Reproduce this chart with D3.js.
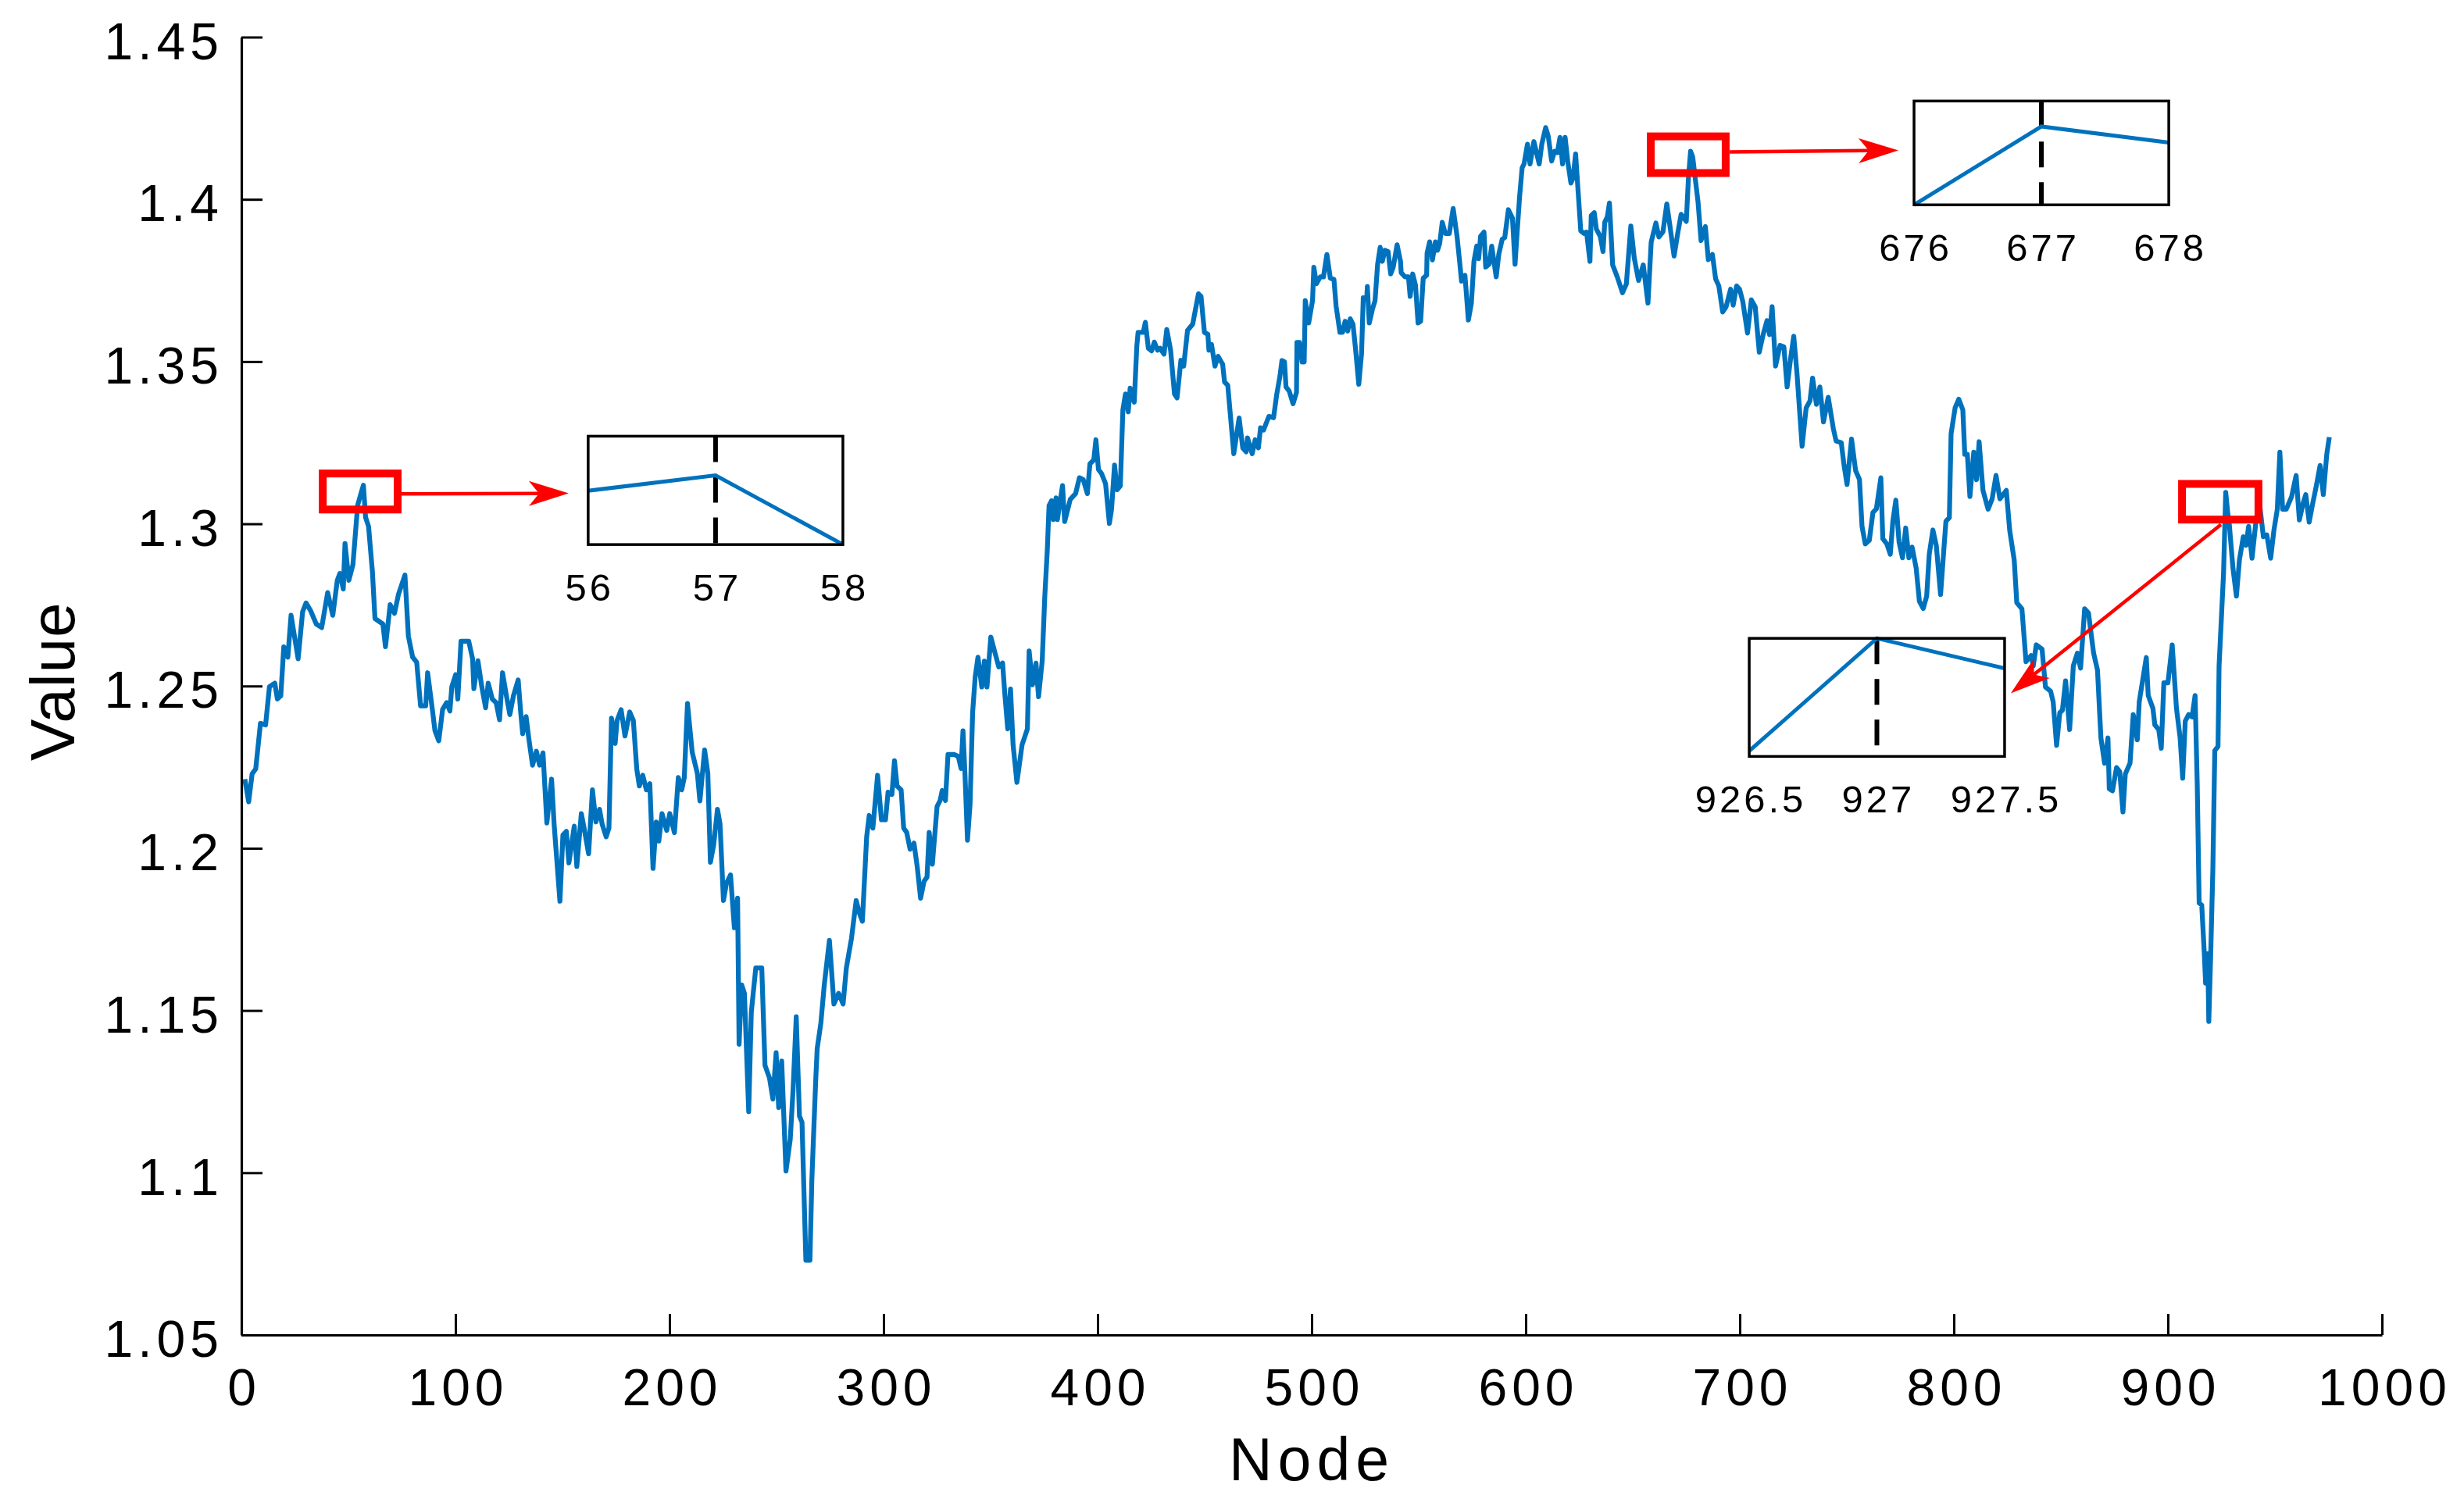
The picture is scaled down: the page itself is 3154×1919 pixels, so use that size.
<!DOCTYPE html>
<html>
<head>
<meta charset="utf-8">
<script src="https://cdn.jsdelivr.net/npm/d3@7"></script>
<style>
html,body{margin:0;padding:0;background:#fff;}
svg{display:block;}
text{font-family:"Liberation Sans",Arial,Helvetica,sans-serif;fill:#000;}
</style>
</head>
<body>
<svg id="chart" width="3154" height="1919"></svg>
<script>
// ---------------- data ----------------
const nodes = [
1.6,3.4,5,6.7,8.9,11.3,13.1,15.6,16.8,18.4,
19.8,21.7,23.2,26.5,28.6,30.2,32.2,35,37.5,40.3,
42.7,44.8,46,47.6,48.4,50.2,52.1,54.3,56,57,
58,59.4,61.2,62.4,66.1,67.3,69.5,71.5,73.4,76.4,
78,80,81.9,83.7,86.1,87,89.2,90.4,92.2,94,
95.9,97.4,98.3,100.1,101.1,102.6,106.2,108,108.6,110.5,
112.3,114.1,115.3,117.2,119,120.6,122,123.8,125.4,127.1,
129.3,130.5,131.4,133,134.2,136,137.8,139.3,140.9,142.7,
144.9,146.1,148.8,150.2,151.8,153,155.5,156.7,158.8,160.3,
162.2,164,165.6,167.3,168.5,170.4,171.7,172.9,174.6,175.5,
177.4,179.2,181.4,183.1,184.7,185.9,187.5,189.2,190.8,192.3,
193.8,195,196.5,198.7,200.1,202.3,204.1,205.7,206.9,208.4,
210.6,213,214.2,216.4,217.9,219.1,220.6,222.4,223.6,225.2,
226.6,228.5,230.3,231.8,232.5,233.7,235,237,238.2,240.3,
243.1,244.6,246.7,248.3,249.8,251,252.4,254.4,256.4,257.7,
259.2,260.7,261.9,263.7,265.6,266.5,268.3,269,270.7,272.3,
274.7,276.8,279,281.1,282.6,285,287.2,288.7,290.1,292.1,
293.3,295,297.2,299,300.9,302.1,303.9,305.1,306.3,308.2,
309.4,310.8,312.4,314.2,315.7,317.3,318.9,320.3,321.3,322.8,
325,326.4,327.4,328.9,330.1,333.1,334.9,336.2,337.1,338,
339.2,340.4,341.6,342.8,344.1,345.9,347.1,348.3,350.1,353.8,
355.6,356.6,358,359.3,360.5,362.3,364.7,367.2,368,369.6,
371.2,372.4,374.1,375.3,376.5,377.3,378.5,379.3,380.6,381.2,
383.6,384.6,387.2,389.7,391.5,393.3,395.2,396.4,398.2,399.2,
400.4,401.8,403.7,405.5,406.5,407.9,409.1,410.6,411.8,413,
414.3,415.2,417.1,418.3,418.9,421.3,422.3,423.7,425.2,426.5,
428,429.2,431,432.3,434.1,435.9,437.1,438.9,440.2,442,
444.4,447.1,448.3,449.9,451.5,452,453.2,454.8,456.3,458.4,
459.3,460.8,463.6,466.1,467.8,469.4,470,472.2,473.6,475.1,
476.1,477.5,480,482.2,483.6,485.2,486.1,487.3,488,489.5,
491.3,492.9,493.1,494.3,495.5,496.5,497,498.6,500.4,501,
502.2,504,505.5,507.1,508.7,510.4,511.4,513.2,514.4,515.6,
516.8,518,519.3,520.5,522,523.3,524.1,525.7,526,526.9,
528.4,529.6,530.8,532,533,534.2,535.7,536.9,538.1,539.9,
541.5,541.8,543.6,545.2,546,547.2,548.5,549.7,550.9,552.1,
553.7,553.9,555.1,556.4,557.8,558.8,559.8,561,562.4,564.3,
566.1,567.9,569.1,570,571.6,573.2,574.6,575.8,577.1,578,
578.9,580.5,581.3,582.9,584.1,586.2,587.4,589,590.2,591.9,
593.8,595,595.9,597.1,598.3,599.2,600.8,602,603.8,606.3,
607.5,609.3,610.5,612.1,613.5,614.8,616,617.2,618.4,619.6,
621.1,622.1,623.3,624.3,625.7,627.2,628.4,630,630.6,632,
633,634.8,636.1,636.9,638.1,639.1,640.6,642.8,645.2,647,
649.1,650.7,652.7,654.9,657.1,658.6,660.8,662.2,664.1,665.9,
667.3,669.3,671,672.6,675,676,677,678,680.5,681.9,
683.9,685.3,687.2,688.7,690.2,692,693.6,695.7,696.9,698.5,
699.9,701.4,703.6,705.4,707.2,709.1,710.9,712.7,713.9,715.1,
716.7,718.8,720.6,722.1,723.7,725.2,726.7,729.1,731,732.8,
734,735.8,737.4,739.1,741.3,743.7,745,747.4,748.6,750.1,
752.2,754.1,755.9,757.1,758.6,760.5,762.2,763.8,765.9,766.8,
768.7,770.3,771.5,772.9,774.4,776,777.5,779,780.5,782.4,
783.9,785.7,787.3,788.5,790.2,791.8,793.8,795.4,796.3,797.9,
798.7,800.6,802.3,804.2,805.1,806.3,807.5,809.3,810.6,811.8,
813.6,816,817.9,819.7,821.5,824.5,826.1,828.2,829.4,831.8,
833.7,836.1,837.1,838.5,841.2,842.8,845.2,846.4,848,849.5,
850.7,852.2,854.1,855.8,857.7,859.2,861.1,862.9,865.3,867.1,
868.7,870.4,872,872.6,874.1,876,877.5,879,880.1,882.3,
883.8,885.7,886.6,889.9,890.8,893,893.9,895.7,896.9,898.1,
900,902,904,905.7,906.9,908.1,909.7,911.3,912.7,913.7,
914.6,915.8,917,917.6,918.6,919.1,920,921,921.9,923.4,
923.9,926,927,928,928.6,930.4,932,933.4,935.2,936.5,
937.7,939.3,941.3,942.9,944.6,946.2,948,949.5,951.1,952.3,
953.6,955.3,957.8,959.9,961.4,963.2,964.4,966,967.5,969.3,
971.1,972.6,974.2,975.4
];
const values = [
1.2213,1.2143,1.2229,1.2245,1.2385,1.2380,1.2498,1.2509,1.2460,1.2470,
1.2621,1.2589,1.2718,1.2584,1.2729,1.2756,1.2734,1.2691,1.2680,1.2788,
1.2718,1.2826,1.2847,1.2799,1.2939,1.2826,1.2874,1.3057,1.3097,1.3119,
1.3020,1.2992,1.2853,1.2708,1.2691,1.2621,1.2751,1.2724,1.2783,1.2842,
1.2654,1.2589,1.2573,1.2439,1.2439,1.2541,1.2428,1.2363,1.2331,1.2428,
1.2449,1.2423,1.2498,1.2535,1.2460,1.2638,1.2638,1.2584,1.2492,1.2578,
1.2498,1.2433,1.2509,1.2460,1.2449,1.2396,1.2541,1.2470,1.2412,1.2470,
1.2519,1.2417,1.2353,1.2406,1.2342,1.2256,1.2299,1.2256,1.2294,1.2078,
1.2213,1.2073,1.1837,1.2041,1.2052,1.1955,1.2068,1.1944,1.2107,1.2055,
1.1983,1.2180,1.2081,1.2120,1.2075,1.2035,1.2062,1.2401,1.2323,1.2394,
1.2427,1.2346,1.2420,1.2394,1.2244,1.2192,1.2225,1.2180,1.2199,1.1938,
1.2081,1.2022,1.2107,1.2055,1.2107,1.2048,1.2218,1.2180,1.2218,1.2446,
1.2296,1.2231,1.2146,1.2303,1.2231,1.1957,1.2009,1.2120,1.2075,1.1839,
1.1892,1.1918,1.1755,1.1846,1.1396,1.1579,1.1553,1.1188,1.1494,1.1631,
1.1631,1.1331,1.1292,1.1227,1.1370,1.1201,1.1344,1.1005,1.1103,1.1253,
1.1481,1.1175,1.1155,1.0730,1.0730,1.0979,1.1285,1.1383,1.1461,1.1579,
1.1716,1.1520,1.1553,1.1520,1.1631,1.1722,1.1839,1.1800,1.1775,1.2035,
1.2101,1.2062,1.2225,1.2088,1.2088,1.2173,1.2166,1.2270,1.2192,1.2180,
1.2062,1.2049,1.1997,1.2016,1.1944,1.1846,1.1898,1.1911,1.2049,1.1951,
1.2129,1.2147,1.2178,1.2147,1.2289,1.2289,1.2283,1.2246,1.2362,1.2233,
1.2025,1.2135,1.2418,1.2528,1.2589,1.2497,1.2577,1.2497,1.2651,1.2559,
1.2571,1.2479,1.2368,1.2491,1.2319,1.2203,1.2319,1.2368,1.2608,1.2504,
1.2571,1.2467,1.2577,1.2774,1.2921,1.3056,1.3071,1.3013,1.3080,1.3013,
1.3118,1.3007,1.3075,1.3093,1.3142,1.3136,1.3093,1.3185,1.3197,1.3259,
1.3167,1.3155,1.3124,1.3001,1.3044,1.3181,1.3105,1.3117,1.3351,1.3400,
1.3345,1.3418,1.3375,1.3547,1.3590,1.3590,1.3621,1.3541,1.3533,1.3560,
1.3535,1.3541,1.3523,1.3599,1.3535,1.3400,1.3388,1.3504,1.3486,1.3596,
1.3615,1.3709,1.3701,1.3590,1.3584,1.3535,1.3553,1.3486,1.3516,1.3492,
1.3437,1.3427,1.3216,1.3326,1.3234,1.3222,1.3265,1.3216,1.3259,1.3234,
1.3296,1.3289,1.3331,1.3327,1.3396,1.3456,1.3503,1.3499,1.3422,1.3409,
1.3370,1.3405,1.3559,1.3559,1.3499,1.3499,1.3688,1.3619,1.3688,1.3791,
1.3740,1.3761,1.3761,1.3830,1.3757,1.3753,1.3671,1.3590,1.3590,1.3624,
1.3594,1.3632,1.3615,1.3538,1.3430,1.3525,1.3697,1.3693,1.3731,1.3619,
1.3662,1.3688,1.3800,1.3852,1.3809,1.3843,1.3839,1.3770,1.3791,1.3860,
1.3809,1.3774,1.3761,1.3761,1.3701,1.3770,1.3735,1.3619,1.3624,1.3757,
1.3766,1.3834,1.3869,1.3813,1.3869,1.3843,1.3864,1.3929,1.3895,1.3895,
1.3972,1.3886,1.3809,1.3748,1.3766,1.3628,1.3680,1.3809,1.3856,1.3817,
1.3886,1.3899,1.3791,1.3800,1.3856,1.3761,1.3830,1.3877,1.3882,1.3968,
1.3942,1.3800,1.3890,1.4006,1.4097,1.4109,1.4170,1.4109,1.4178,1.4109,
1.4170,1.4221,1.4195,1.4118,1.4148,1.4144,1.4191,1.4109,1.4191,1.4118,
1.4050,1.4066,1.4140,1.4041,1.3903,1.3895,1.3899,1.3809,1.3950,1.3959,
1.3908,1.3886,1.3839,1.3929,1.3946,1.3989,1.3798,1.3760,1.3712,1.3739,
1.3918,1.3819,1.3750,1.3798,1.3680,1.3868,1.3927,1.3884,1.3900,1.3986,
1.3921,1.3825,1.3895,1.3954,1.3932,1.4065,1.4148,1.4131,1.3991,1.3873,
1.3916,1.3814,1.3830,1.3755,1.3733,1.3653,1.3669,1.3723,1.3674,1.3733,
1.3723,1.3685,1.3588,1.3690,1.3669,1.3529,1.3583,1.3626,1.3583,1.3669,
1.3486,1.3550,1.3545,1.3422,1.3508,1.3578,1.3465,1.3239,1.3357,1.3379,
1.3449,1.3368,1.3422,1.3314,1.3390,1.3293,1.3255,1.3250,1.3185,1.3121,
1.3261,1.3164,1.3137,1.2992,1.2938,1.2949,1.3035,1.3046,1.3142,1.2954,
1.2938,1.2906,1.3008,1.3073,1.2944,1.2895,1.2987,1.2895,1.2928,1.2863,
1.2761,1.2739,1.2777,1.2906,1.2981,1.2933,1.2782,1.2928,1.3008,1.3019,
1.3277,1.3358,1.3384,1.3351,1.3214,1.3214,1.3084,1.3221,1.3136,1.3253,
1.3103,1.3045,1.3077,1.3149,1.3077,1.3103,1.2979,1.2888,1.2757,1.2738,
1.2575,1.2594,1.2562,1.2627,1.2614,1.2497,1.2484,1.2451,1.2317,1.2418,
1.2425,1.2516,1.2366,1.2562,1.2601,1.2555,1.2738,1.2725,1.2601,1.2549,
1.2340,1.2262,1.2340,1.2183,1.2177,1.2249,1.2236,1.2112,1.2229,1.2262,
1.2412,1.2334,1.2451,1.2588,1.2471,1.2431,1.2380,1.2366,1.2308,1.2510,
1.2510,1.2627,1.2431,1.2340,1.2216,1.2392,1.2412,1.2405,1.2471,1.2197,
1.1831,1.1825,1.1675,1.1584,1.1675,1.1466,1.1675,1.1936,1.2301,1.2314,
1.2562,1.2849,1.3097,1.3031,1.3005,1.2862,1.2777,1.2888,1.2960,1.2934,
1.2992,1.2894,1.3018,1.3057,1.2960,1.2966,1.2894,1.2979,1.3045,1.3221,
1.3045,1.3045,1.3084,1.3149,1.3012,1.3064,1.3090,1.3005,1.3058,1.3116,
1.3180,1.3090,1.3214,1.3267
];

// axes
const xTickValues = [0,100,200,300,400,500,600,700,800,900,1000];
const yTickValues = [1.05,1.1,1.15,1.2,1.25,1.3,1.35,1.4,1.45];
const yTickLabels = ["1.05","1.1","1.15","1.2","1.25","1.3","1.35","1.4","1.45"];
const xDomain = [0,1000];
const yDomain = [1.05,1.45];
const xLabelText = "Node";
const yLabelText = "Value";

// zoom annotations (data units of the main axes)
const markNodes = [57,677,927];                       // marked peaks
const markRectNodes = [[38,73],[658.4,693.4],[906.6,942.3]];
const markRectValues = [[1.3044,1.3155],[1.4081,1.4194],[1.3013,1.3123]];
const insetBoxNodes = [[162,281],[781.4,900.4],[704.4,823.7]];
const insetBoxValues = [[1.2936,1.3270],[1.3983,1.4303],[1.2283,1.2647]];
const insetXDomains = [[56,58],[676,678],[926.5,927.5]];
const insetYDomains = [[1.302,1.3175],[1.4065,1.4175],[1.2967,1.3097]];
const insetTickValues = [[56,57,58],[676,677,678],[926.5,927,927.5]];
const insetTickLabels = [["56","57","58"],["676","677","678"],["926.5","927","927.5"]];
const arrowFrom = [[74.8,1.3092],[695.3,1.4146],[924.8,1.2998]];
const arrowTo = [[152.9,1.3094],[774.1,1.4151],[826.6,1.2478]];

// ---------------- drawing ----------------
const BLUE = "#0072BD";
const RED = "#FF0000";
const FONT = '"Liberation Sans",Arial,Helvetica,sans-serif';

const svg = d3.select("#chart");
const plotLeft = 309, plotRight = 3049, plotTop = 47.5, plotBottom = 1709;

const x = d3.scaleLinear().domain(xDomain).range([plotLeft, plotRight]);
const y = d3.scaleLinear().domain(yDomain).range([plotBottom, plotTop]);

const series = nodes.map((n,i)=>({n:n, v:values[i]}));

const line = d3.line().x(d=>x(d.n)).y(d=>y(d.v));

// main series
svg.append("path")
  .datum(series)
  .attr("fill","none")
  .attr("stroke",BLUE)
  .attr("stroke-width",6.2)
  .attr("stroke-linejoin","round")
  .attr("d",line);

// axes
const xAxis = d3.axisBottom(x)
  .tickValues(xTickValues)
  .tickFormat(d3.format("d"))
  .tickSizeInner(-27).tickSizeOuter(0).tickPadding(43);
const yAxis = d3.axisLeft(y)
  .tickValues(yTickValues)
  .tickFormat((d,i)=>yTickLabels[i])
  .tickSizeInner(-27).tickSizeOuter(0).tickPadding(23);

function styleAxis(g){
  g.attr("font-family",FONT).attr("font-size",66);
  g.select(".domain").attr("stroke","#000").attr("stroke-width",3.2);
  g.selectAll(".tick line").attr("stroke","#000").attr("stroke-width",3);
  g.selectAll(".tick text").attr("fill","#000").style("letter-spacing","6px");
}
const gx = svg.append("g").attr("transform",`translate(0,${plotBottom})`).call(xAxis);
styleAxis(gx);
gx.selectAll(".tick text").attr("dx","3px");
const gy = svg.append("g").attr("transform",`translate(${plotLeft},0)`).call(yAxis);
styleAxis(gy);
gy.selectAll(".tick text").attr("dy","0.42em");

// axis titles
svg.append("text")
  .attr("x",(plotLeft+plotRight)/2).attr("y",1895)
  .attr("text-anchor","middle")
  .attr("font-size",77).style("letter-spacing","7px")
  .text(xLabelText);
svg.append("text")
  .attr("transform",`translate(95,${(plotTop+plotBottom)/2 - 6}) rotate(-90)`)
  .attr("text-anchor","middle")
  .attr("font-size",80).style("letter-spacing","1px")
  .text(yLabelText);

// red rectangles
markRectNodes.forEach((rn,i)=>{
  const rv = markRectValues[i];
  svg.append("rect")
    .attr("x",x(rn[0])).attr("y",y(rv[1]))
    .attr("width",x(rn[1])-x(rn[0])).attr("height",y(rv[0])-y(rv[1]))
    .attr("fill","none").attr("stroke",RED).attr("stroke-width",10);
});

// arrows
arrowFrom.forEach((f,i)=>{
  const t = arrowTo[i];
  const x0=x(f[0]), y0=y(f[1]), x1=x(t[0]), y1=y(t[1]);
  const dx=x1-x0, dy=y1-y0, L=Math.hypot(dx,dy);
  const ux=dx/L, uy=dy/L, px=-uy, py=ux;
  const headLen=51, headHalf=16, notch=13;
  const bx=x1-ux*headLen, by=y1-uy*headLen;
  const nx=x1-ux*(headLen-notch), ny=y1-uy*(headLen-notch);
  svg.append("line")
    .attr("x1",x0).attr("y1",y0).attr("x2",nx).attr("y2",ny)
    .attr("stroke",RED).attr("stroke-width",4.5);
  svg.append("path")
    .attr("d",`M${x1},${y1}L${bx+px*headHalf},${by+py*headHalf}L${nx},${ny}L${bx-px*headHalf},${by-py*headHalf}Z`)
    .attr("fill",RED);
});

// insets
const defs = svg.append("defs");
insetBoxNodes.forEach((bn,i)=>{
  const bv = insetBoxValues[i];
  const bx0=x(bn[0]), bx1=x(bn[1]), byTop=y(bv[1]), byBot=y(bv[0]);
  const ix = d3.scaleLinear().domain(insetXDomains[i]).range([bx0,bx1]);
  const iy = d3.scaleLinear().domain(insetYDomains[i]).range([byBot,byTop]);
  const g = svg.append("g");
  g.append("rect")
    .attr("x",bx0).attr("y",byTop).attr("width",bx1-bx0).attr("height",byBot-byTop)
    .attr("fill","#fff").attr("stroke","none");
  // dashed marker
  g.append("line")
    .attr("x1",ix(markNodes[i])).attr("x2",ix(markNodes[i]))
    .attr("y1",byTop).attr("y2",byBot)
    .attr("stroke","#000").attr("stroke-width",6)
    .attr("stroke-dasharray","33,19");
  const cid = "clip"+i;
  defs.append("clipPath").attr("id",cid).append("rect")
    .attr("x",bx0).attr("y",byTop-10).attr("width",bx1-bx0).attr("height",byBot-byTop+20);
  const dom = insetXDomains[i];
  const sub = series.filter(d=>d.n>=dom[0]-0.55 && d.n<=dom[1]+0.55);
  g.append("path")
    .datum(sub)
    .attr("clip-path",`url(#${cid})`)
    .attr("fill","none").attr("stroke",BLUE).attr("stroke-width",5)
    .attr("d",d3.line().x(d=>ix(d.n)).y(d=>iy(d.v)));
  g.append("rect")
    .attr("x",bx0).attr("y",byTop).attr("width",bx1-bx0).attr("height",byBot-byTop)
    .attr("fill","none").attr("stroke","#000").attr("stroke-width",3.5);
  insetTickValues[i].forEach((tv,j)=>{
    g.append("text")
      .attr("x",ix(tv)+2).attr("y",byBot+72)
      .attr("text-anchor","middle")
      .attr("font-size",49).style("letter-spacing","4px")
      .text(insetTickLabels[i][j]);
  });
});
</script>
</body>
</html>
